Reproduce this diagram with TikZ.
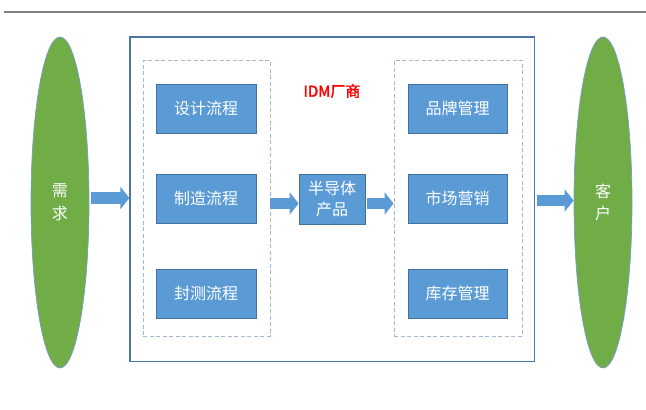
\documentclass[tikz,border=0pt]{standalone}
\usepackage{fontspec}
\newfontfamily\cjk{Noto Sans CJK SC}
\newfontfamily\cjkbold{Noto Sans CJK SC}[FakeBold=2]
\usetikzlibrary{shapes.geometric,arrows.meta}

\definecolor{boxblue}{HTML}{5B9BD5}
\definecolor{boxedge}{HTML}{41719C}
\definecolor{leaf}{HTML}{70AD47}
\definecolor{leafedge}{HTML}{7A9CC6}
\definecolor{frameedge}{HTML}{4A76A8}
\definecolor{groupedge}{HTML}{A3B8CF}
\definecolor{rulegray}{HTML}{808080}

\tikzset{
  txt/.style={font=\cjk\fontsize{16}{22.5}\selectfont},
  party/.style={ellipse, draw=leafedge, line width=0.7pt, fill=leaf,
    minimum width=58pt, minimum height=331pt, inner sep=0pt,
    txt, text=white, align=center},
  stage/.style={rectangle, draw=boxedge, line width=0.6pt, fill=boxblue,
    minimum width=100pt, minimum height=49pt, inner sep=0pt,
    txt, text=white, align=center},
  frame/.style={rectangle, draw=frameedge, line width=1.2pt, inner sep=0pt},
  group/.style={rectangle, draw=groupedge, line width=0.9pt,
    dash pattern=on 4pt off 2.5pt, inner sep=0pt},
  blockarrow/.style={draw=boxblue, line width=11.5pt,
    -{Triangle[length=9pt,width=22pt]}},
}

\begin{document}
\begin{tikzpicture}[x=1pt,y=-1pt]
  \useasboundingbox (0,0) rectangle (646,410);

  % rule along the top
  \draw[rulegray, line width=2pt] (4,12) -- (646,12);

  % demand and customer
  \node[party] (need)   at (60,202.5)  {需\\求};
  \node[party] (client) at (603,202.5) {客\\户};

  % the IDM company and its two groups
  \node[frame, minimum width=404.5pt, minimum height=324.7pt] (idm) at (332.25,199.35) {};
  \node[group, minimum width=126.7pt, minimum height=275.5pt] (lgroup) at (206.65,198.25) {};
  \node[group, minimum width=128pt, minimum height=276pt] (rgroup) at (458,198) {};

  \node[text=red, font=\cjkbold\fontsize{15}{17}\selectfont] (title) at (332,91) {IDM厂商};

  % production flow
  \node[stage] (design) at (206,108.5) {设计流程};
  \node[stage] (fab)    at (206,198.5) {制造流程};
  \node[stage] (test)   at (206,293.5) {封测流程};

  % semiconductor product
  \node[stage, minimum width=66pt, minimum height=50.5pt, font=\cjk\fontsize{16}{21}\selectfont]
    (product) at (332,199.25) {半导体\\产品};

  % business side
  \node[stage, minimum width=99pt] (brand)  at (457.5,108.5) {品牌管理};
  \node[stage, minimum width=99pt] (market) at (457.5,198.5) {市场营销};
  \node[stage, minimum width=99pt] (stock)  at (457.5,293.5) {库存管理};

  % flow arrows
  \draw[blockarrow] ([xshift=2pt,yshift=4.5pt]need.east) coordinate (a1) -- (a1 -| idm.west);
  \draw[blockarrow] ([yshift=-5.25pt]lgroup.east) coordinate (a2) -- (a2 -| product.west);
  \draw[blockarrow] ([xshift=1.5pt,yshift=-4.25pt]product.east) coordinate (a3) -- (a3 -| rgroup.west);
  \draw[blockarrow] ([xshift=2.2pt,yshift=-1.15pt]idm.east) coordinate (a4) -- (a4 -| client.west);
\end{tikzpicture}
\end{document}
